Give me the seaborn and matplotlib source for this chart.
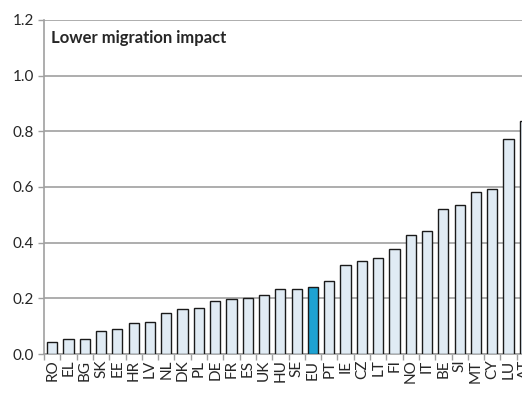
import seaborn as sns
import matplotlib.pyplot as plt

countries = ['RO', 'EL', 'BG', 'SK', 'EE', 'HR', 'LV', 'NL', 'DK', 'PL', 'DE', 'FR', 'ES', 'UK', 'HU',
             'SE', 'EU', 'PT', 'IE', 'CZ', 'LT', 'FI', 'NO', 'IT', 'BE', 'SI', 'MT', 'CY', 'LU', 'AT']
values = [0.044, 0.053, 0.055, 0.084, 0.089, 0.111, 0.114, 0.146, 0.162, 0.165, 0.189, 0.199, 0.202, 0.212, 0.235,
          0.235, 0.241, 0.263, 0.318, 0.334, 0.344, 0.378, 0.427, 0.442, 0.522, 0.535, 0.582, 0.592, 0.772, 0.837]
highlight = 'EU'

sns.set_style('white')
plt.rcParams['font.family'] = ['Lato', 'DejaVu Sans']

colors = {c: ('#00B0F0' if c == highlight else '#DDEBF7') for c in countries}

fig = plt.figure(figsize=(5.22, 3.94), dpi=100)
ax = fig.add_axes([44 / 522, 40 / 394, 489 / 522, 334 / 394])

sns.barplot(x=countries, y=values, hue=countries, palette=colors, legend=False,
            width=0.62, edgecolor='#1A1A1A', linewidth=1.0, ax=ax, zorder=3)

ax.set_ylim(0, 1.2)
ax.set_xlim(-0.5, len(countries) - 0.5)
ax.set_yticks([0, 0.2, 0.4, 0.6, 0.8, 1.0, 1.2])
ax.set_yticklabels(['0.0', '0.2', '0.4', '0.6', '0.8', '1.0', '1.2'], fontsize=11)
ax.yaxis.grid(True, color='#A0A0A0', linewidth=1.2, zorder=0)
ax.set_axisbelow(True)

ax.set_xticks(range(len(countries)))
ax.set_xticklabels(countries, rotation=90, fontsize=11)
ax.tick_params(axis='x', which='major', length=0, pad=4)
ax.set_xticks([i - 0.5 for i in range(len(countries) + 1)], minor=True)
ax.tick_params(axis='x', which='minor', length=4, color='#A0A0A0', width=1, bottom=True)
ax.tick_params(axis='y', length=4, color='#A0A0A0', width=1, left=True, pad=3)

for s in ['top', 'right']:
    ax.spines[s].set_visible(False)
ax.spines['left'].set_color('#A0A0A0')
ax.spines['left'].set_linewidth(1.2)
ax.spines['bottom'].set_color('#A0A0A0')
ax.spines['bottom'].set_linewidth(1.2)

ax.text(0.015, 0.97, 'Lower migration impact', transform=ax.transAxes,
        fontsize=12, fontweight='bold', va='top', ha='left')

ax.set_xlabel('')
ax.set_ylabel('')

fig.savefig('out.png', dpi=100)
